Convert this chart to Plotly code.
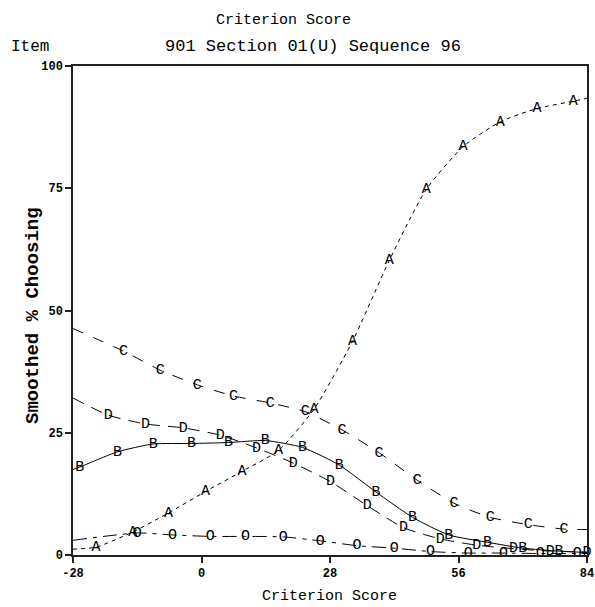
import plotly.graph_objects as go

# ---- data ----
a_x = [-28, -23, -15, -7.2, 0.9, 8.8, 16.8, 24.5, 32.9, 40.9, 49.0, 57.0, 65.1, 73.1, 81.0, 84]
a_y = [1.2, 1.6, 4.7, 8.6, 13.0, 17.1, 21.4, 29.8, 43.7, 60.2, 74.8, 83.5, 88.6, 91.3, 92.8, 93.4]
a_t = ["", "A", "A", "A", "A", "A", "A", "A", "A", "A", "A", "A", "A", "A", "A", ""]

b_x = [-28, -26.5, -18.3, -10.5, -2.2, 5.9, 13.9, 22.0, 30.0, 38.0, 46.0, 53.9, 62.3, 70.0, 77.9, 84]
b_y = [17.5, 18.0, 21.1, 22.7, 22.8, 23.0, 23.4, 22.0, 18.4, 12.9, 7.7, 4.1, 2.6, 1.4, 0.8, 0.5]
b_t = ["", "B", "B", "B", "B", "B", "B", "B", "B", "B", "B", "B", "B", "B", "B", ""]

c_x = [-28, -17, -9, -0.9, 7.0, 15.0, 22.6, 30.6, 38.7, 47.0, 55.0, 62.9, 71.2, 79.0, 84]
c_y = [46.3, 41.7, 37.8, 34.8, 32.5, 31.1, 29.3, 25.6, 20.9, 15.3, 10.6, 7.7, 6.2, 5.3, 5.2]
c_t = ["", "C", "C", "C", "C", "C", "C", "C", "C", "C", "C", "C", "C", "C", ""]

d_x = [-28, -20.3, -12.2, -4.0, 4.1, 12.0, 20.0, 28.1, 36.1, 44.0, 52.0, 60.0, 68.0, 76.0, 84]
d_y = [32.1, 28.6, 26.8, 26.0, 24.5, 21.9, 18.8, 15.0, 10.1, 5.6, 3.3, 2.0, 1.3, 0.8, 0.6]
d_t = ["", "D", "D", "D", "D", "D", "D", "D", "D", "D", "D", "D", "D", "D", "D"]

o_x = [-28, -14.0, -6.3, 1.9, 9.6, 17.8, 25.9, 33.9, 42.0, 49.9, 58.1, 65.8, 73.8, 81.9, 84]
o_y = [3.0, 4.5, 4.1, 3.8, 3.8, 3.7, 2.9, 1.9, 1.4, 0.7, 0.4, 0.4, 0.3, 0.3, 0.3]
o_t = ["", "O", "O", "O", "O", "O", "O", "O", "O", "O", "O", "O", "O", "O", ""]

x_ticks = [-28, 0, 28, 56, 84]
y_ticks = [0, 25, 50, 75, 100]

MONO = "Liberation Mono"

series = [
    (o_x, o_y, o_t, "14px,6px,4px,6px"),
    (d_x, d_y, d_t, "12px,8px"),
    (c_x, c_y, c_t, "11px,11px"),
    (b_x, b_y, b_t, "solid"),
    (a_x, a_y, a_t, "4px,4px"),
]

fig = go.Figure()
for xs, ys, ts, dash in series:
    fig.add_trace(go.Scatter(
        x=xs, y=ys, text=ts, mode="lines+text",
        textposition="middle center",
        textfont=dict(family=MONO, size=15, color="black"),
        line=dict(color="black", width=1, dash=dash, shape="spline", smoothing=0.6),
        showlegend=False, cliponaxis=False, hoverinfo="skip",
    ))

W, H = 595, 607
L, R, T, B = 73, 8, 66, 52
pw = W - L - R
ph = H - T - B

def px(xpix):
    return (xpix - L) / pw

def py(ypix):
    return (H - B - ypix) / ph

fig.update_layout(
    width=W, height=H,
    margin=dict(l=L, r=R, t=T, b=B, autoexpand=False),
    paper_bgcolor="white", plot_bgcolor="white",
    font=dict(family=MONO, color="black"),
    hovermode=False,
    xaxis=dict(
        range=[-28, 84], tickvals=x_ticks, ticktext=[str(v) for v in x_ticks],
        showgrid=False, zeroline=False, showline=True, linecolor="#222", linewidth=1.5,
        mirror=True, ticks="outside", ticklen=6, tickcolor="#222", tickwidth=1.5,
        tickfont=dict(family=MONO, size=12, weight="bold"), automargin=False,
        ticklabeloverflow="allow",
    ),
    yaxis=dict(
        range=[0, 100], tickvals=y_ticks, ticktext=[str(v) for v in y_ticks],
        showgrid=False, zeroline=False, showline=True, linecolor="#222", linewidth=1.5,
        mirror=True, ticks="outside", ticklen=6, tickcolor="#222", tickwidth=1.5,
        tickfont=dict(family=MONO, size=12, weight="bold"), automargin=False,
        ticklabeloverflow="allow",
    ),
    annotations=[
        dict(text="Criterion Score", xref="paper", yref="paper", x=px(283), y=py(20),
             showarrow=False, font=dict(family=MONO, size=15), xanchor="center", yanchor="middle"),
        dict(text="Item", xref="paper", yref="paper", x=px(9), y=py(47),
             showarrow=False, font=dict(family=MONO, size=16), xanchor="left", yanchor="middle"),
        dict(text="901 Section 01(U) Sequence 96", xref="paper", yref="paper", x=px(313), y=py(47),
             showarrow=False, font=dict(family=MONO, size=17), xanchor="center", yanchor="middle"),
        dict(text="Criterion Score", xref="paper", yref="paper", x=px(329), y=py(596),
             showarrow=False, font=dict(family=MONO, size=15), xanchor="center", yanchor="middle"),
        dict(text="Smoothed % Choosing", xref="paper", yref="paper", x=px(33), y=py(316),
             showarrow=False, textangle=-90, font=dict(family=MONO, size=19, weight="bold"),
             xanchor="center", yanchor="middle"),
    ],
)

# remove the default page margin so the 595x607 figure fills the window exactly
fig.write_html("out.html", config={"displayModeBar": False},
               post_script="document.body.style.margin='0';")
